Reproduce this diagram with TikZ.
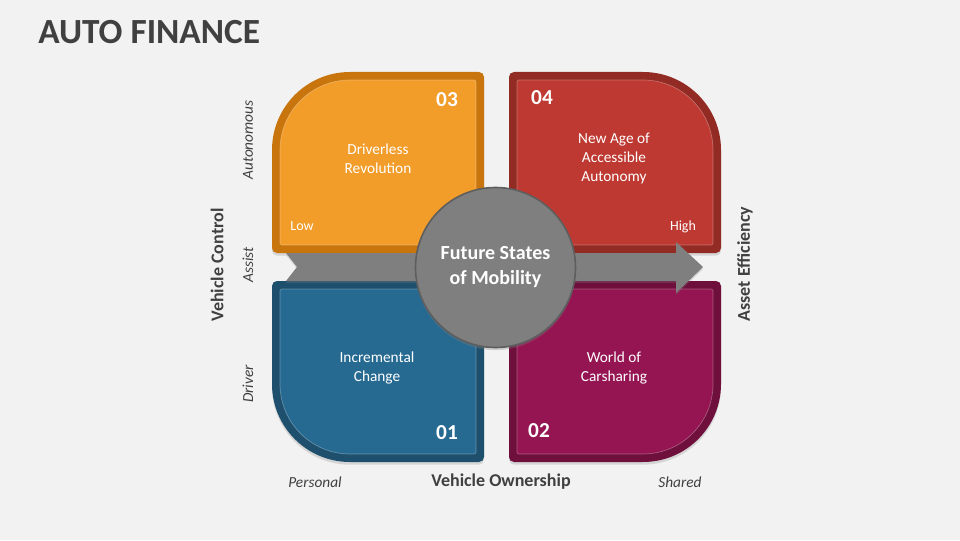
\documentclass[tikz,border=0pt]{standalone}
\usepackage{fontspec}
\setmainfont{Carlito}
\usetikzlibrary{shadows}

\definecolor{bgcol}{HTML}{F2F2F2}
\definecolor{darktxt}{HTML}{404040}
\definecolor{orfill}{HTML}{F29C2A}
\definecolor{orline}{HTML}{C8750E}
\definecolor{rdfill}{HTML}{BE3931}
\definecolor{rdline}{HTML}{922B24}
\definecolor{blfill}{HTML}{266A92}
\definecolor{blline}{HTML}{1E506E}
\definecolor{pufill}{HTML}{951552}
\definecolor{puline}{HTML}{6E0F3C}
\definecolor{grfill}{HTML}{7F7F7F}
\definecolor{grline}{HTML}{5E5E5E}

% one quadrant, big corner top left, centre of the figure at (0,0)
\newcommand{\petal}[2]{%
  \fill[#1, drop shadow={shadow xshift=0pt, shadow yshift=-2pt, opacity=0.25}]
    (-224.5,19) -- (-224.5,117) arc (180:90:78) -- (-17.5,195) arc (90:0:5)
    -- (-12.5,19) arc (0:-90:5) -- (-219.5,14) arc (-90:-180:5) -- cycle;
  \filldraw[fill=#2, draw=white, draw opacity=0.3, line width=0.5pt]
    (-216.5,24) -- (-216.5,117) arc (180:90:70) -- (-22.5,187) arc (90:0:2)
    -- (-20.5,24) arc (0:-90:2) -- (-214.5,22) arc (-90:-180:2) -- cycle;
}

\tikzset{
  boxtxt/.style={text=white, align=center, font=\fontsize{11.5}{14.25}\selectfont},
  numtxt/.style={text=white, font=\fontsize{16}{18}\selectfont\bfseries},
  smalltxt/.style={text=white, font=\fontsize{10.5}{12}\selectfont},
  axistitle/.style={text=darktxt, font=\fontsize{13.5}{16}\selectfont\bfseries},
  axislabel/.style={text=darktxt, font=\fontsize{11.5}{13}\selectfont\itshape}
}

\begin{document}
\begin{tikzpicture}[x=0.75pt,y=0.75pt]
  \fill[bgcol] (0,0) rectangle (960,540);
  \useasboundingbox (0,0) rectangle (960,540);

  \node[anchor=base west, text=darktxt, font=\fontsize{26.5}{30}\selectfont\bfseries, inner sep=0pt] (title) at (38,496) {AUTO FINANCE};

  \coordinate (C) at (496.5,273);

  % quadrants
  \begin{scope}[shift={(C)}]
    \petal{orline}{orfill}
  \end{scope}
  \begin{scope}[shift={(C)}, xscale=-1]
    \petal{rdline}{rdfill}
  \end{scope}
  \begin{scope}[shift={(C)}, yscale=-1]
    \petal{blline}{blfill}
  \end{scope}
  \begin{scope}[shift={(C)}, xscale=-1, yscale=-1]
    \petal{puline}{pufill}
  \end{scope}

  % arrow
  \fill[grfill, drop shadow={shadow xshift=0pt, shadow yshift=-1.5pt, opacity=0.25}]
    (286,287) -- (676,287) -- (676,298) -- (703,273) -- (676,247) -- (676,259)
    -- (286,259) -- (297,273) -- cycle;

  % centre
  \filldraw[fill=grfill, draw=grline, line width=1.2pt,
    drop shadow={shadow xshift=0pt, shadow yshift=-2pt, opacity=0.3}] (495.5,272.5) circle (80);
  \node[text=white, align=center, font=\fontsize{15}{18.75}\selectfont\bfseries] (core) at (495.5,273) {Future States\\of Mobility};

  \node[numtxt] (n3) at (447,440) {03};
  \node[boxtxt] (q3) at (378,381) {Driverless\\Revolution};
  \node[smalltxt] (low) at (302,314) {Low};

  \node[numtxt] (n4) at (542,442) {04};
  \node[boxtxt] (q4) at (614,382) {New Age of\\Accessible\\Autonomy};
  \node[smalltxt] (high) at (683,313) {High};

  \node[boxtxt] (q1) at (377,172) {Incremental\\Change};
  \node[numtxt] (n1) at (447,107) {01};

  \node[boxtxt] (q2) at (614,172) {World of\\Carsharing};
  \node[numtxt] (n2) at (539,109) {02};

  % axes
  \node[axislabel] (pers) at (315,58) {Personal};
  \node[axistitle] (own) at (501,58) {Vehicle Ownership};
  \node[axislabel] (shar) at (680,58) {Shared};

  \node[axistitle, rotate=90] (ctrl) at (217,275) {Vehicle Control};
  \node[axislabel, rotate=90] (auto) at (248,400) {Autonomous};
  \node[axislabel, rotate=90] (asst) at (248,275) {Assist};
  \node[axislabel, rotate=90] (drv) at (248,156) {Driver};

  \node[axistitle, rotate=90] (eff) at (745,276) {Asset Efficiency};
\end{tikzpicture}
\end{document}
